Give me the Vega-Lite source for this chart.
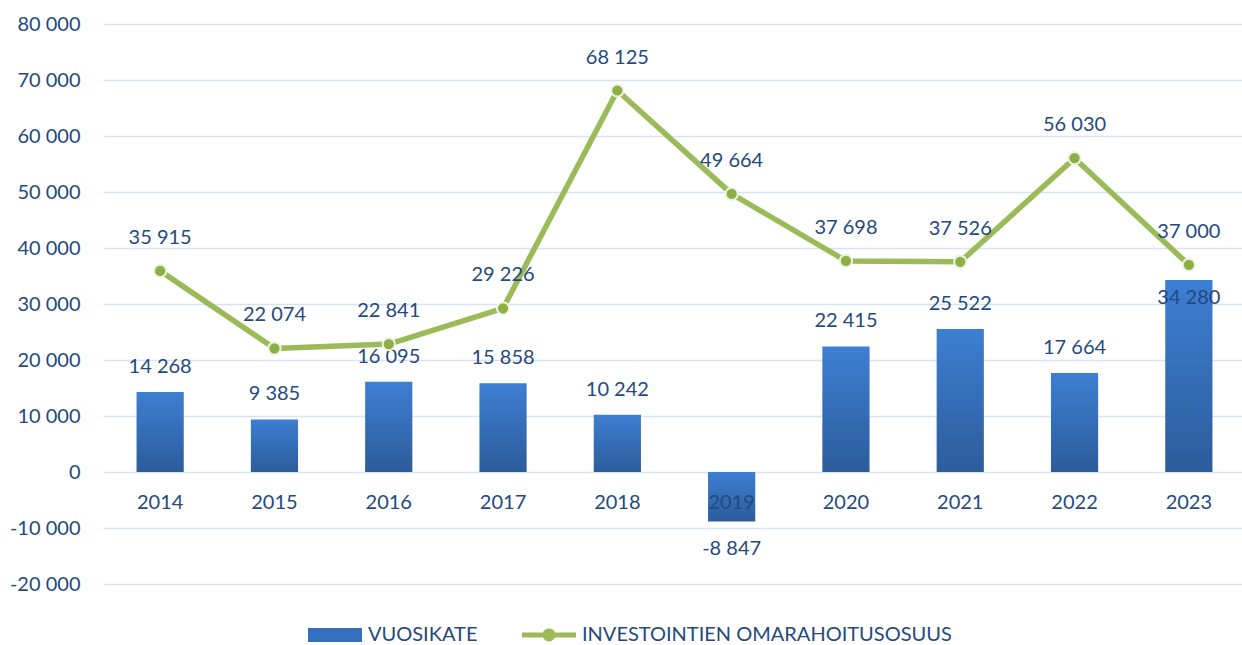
{
  "$schema": "https://vega.github.io/schema/vega-lite/v6.json",
  "autosize": "none",
  "width": 1143,
  "height": 560,
  "padding": {"left": 103, "top": 24, "right": 0, "bottom": 61},
  "background": "white",
  "config": {
    "locale": {"number": {"decimal": ",", "thousands": " ", "grouping": [3], "currency": ["", " €"], "minus": "-"}},
    "view": {"stroke": null},
    "font": "Lato"
  },
  "data": {
    "values": [
      {"year": "2014", "vuosikate": 14268, "omarahoitus": 35915},
      {"year": "2015", "vuosikate": 9385, "omarahoitus": 22074},
      {"year": "2016", "vuosikate": 16095, "omarahoitus": 22841},
      {"year": "2017", "vuosikate": 15858, "omarahoitus": 29226},
      {"year": "2018", "vuosikate": 10242, "omarahoitus": 68125},
      {"year": "2019", "vuosikate": -8847, "omarahoitus": 49664},
      {"year": "2020", "vuosikate": 22415, "omarahoitus": 37698},
      {"year": "2021", "vuosikate": 25522, "omarahoitus": 37526},
      {"year": "2022", "vuosikate": 17664, "omarahoitus": 56030},
      {"year": "2023", "vuosikate": 34280, "omarahoitus": 37000}
    ]
  },
  "encoding": {
    "x": {
      "field": "year", "type": "nominal", "sort": null,
      "scale": {"paddingInner": 0.587, "paddingOuter": 0.2935},
      "axis": {
        "title": null, "orient": "bottom", "offset": -112, "domain": false, "ticks": false, "grid": false, "zindex": 1,
        "labelAngle": 0, "labelFontSize": 20, "labelColor": "#24497E", "labelPadding": 20, "labelFont": "Lato"
      }
    }
  },
  "layer": [
    {
      "mark": {
        "type": "bar",
        "fill": {"gradient": "linear", "x1": 0, "y1": 0, "x2": 0, "y2": 1,
          "stops": [{"offset": 0, "color": "#3D7FD2"}, {"offset": 1, "color": "#2C5C9B"}]}
      },
      "encoding": {
        "y": {
          "field": "vuosikate", "type": "quantitative",
          "scale": {"domain": [-20000, 80000], "nice": false, "zero": false},
          "axis": {
            "title": null, "values": [-20000, -10000, 0, 10000, 20000, 30000, 40000, 50000, 60000, 70000, 80000],
            "format": ",d", "domain": false, "ticks": false, "grid": true, "gridColor": "#D6E3F5", "gridWidth": 1.5,
            "labelFontSize": 20, "labelColor": "#24497E", "labelPadding": 23, "labelFont": "Lato"
          }
        }
      }
    },
    {
      "transform": [{"filter": "datum.vuosikate >= 0 && datum.year != '2023'"}],
      "mark": {"type": "text", "baseline": "middle", "dy": -25, "fontSize": 20, "color": "#24497E", "font": "Lato"},
      "encoding": {
        "y": {"field": "vuosikate", "type": "quantitative"},
        "text": {"field": "vuosikate", "type": "quantitative", "format": ",d"}
      }
    },
    {
      "transform": [{"filter": "datum.vuosikate < 0"}],
      "mark": {"type": "text", "baseline": "middle", "dy": 27, "fontSize": 20, "color": "#24497E", "font": "Lato"},
      "encoding": {
        "y": {"field": "vuosikate", "type": "quantitative"},
        "text": {"field": "vuosikate", "type": "quantitative", "format": ",d"}
      }
    },
    {
      "transform": [{"filter": "datum.year == '2023'"}],
      "mark": {"type": "text", "baseline": "middle", "dy": 18, "fontSize": 20, "color": "#24497E", "font": "Lato"},
      "encoding": {
        "y": {"field": "vuosikate", "type": "quantitative"},
        "text": {"field": "vuosikate", "type": "quantitative", "format": ",d"}
      }
    },
    {
      "mark": {"type": "line", "strokeWidth": 5.5, "strokeJoin": "round"},
      "encoding": {
        "y": {"field": "omarahoitus", "type": "quantitative"},
        "color": {
          "datum": "INVESTOINTIEN OMARAHOITUSOSUUS",
          "scale": {"domain": ["VUOSIKATE", "INVESTOINTIEN OMARAHOITUSOSUUS"], "range": ["#3470BD", "#9BBB59"]},
          "legend": {
            "title": null, "orient": "none", "direction": "horizontal", "legendX": 205, "legendY": 584,
            "labelFontSize": 20, "labelColor": "#24497E", "labelFont": "Lato", "labelOffset": 6, "labelLimit": 0,
            "columnPadding": 44, "symbolSize": 2916, "symbolType": "square",
            "encode": {
              "symbols": {
                "update": {
                  "shape": [
                    {"test": "datum.value === 'VUOSIKATE'", "value": "M-1,-0.26H1V0.26H-1Z"},
                    {"value": "M-1,-0.09H1V0.09H-1Z M0.24,0A0.24,0.24 0 1 1 -0.24,0A0.24,0.24 0 1 1 0.24,0Z"}
                  ],
                  "fill": [
                    {"test": "datum.value === 'VUOSIKATE'", "value": "#3470BD"},
                    {"value": "#9BBB59"}
                  ],
                  "stroke": {"value": "transparent"},
                  "strokeWidth": {"value": 0},
                  "size": {"value": 2916},
                  "opacity": {"value": 1}
                }
              }
            }
          }
        }
      }
    },
    {
      "mark": {"type": "point", "shape": "circle", "filled": true, "size": 150, "fill": "#8CB043", "stroke": "#EEF3E2", "strokeWidth": 2, "opacity": 1},
      "encoding": {
        "y": {"field": "omarahoitus", "type": "quantitative"}
      }
    },
    {
      "mark": {"type": "text", "baseline": "middle", "dy": -33, "fontSize": 20, "color": "#24497E", "font": "Lato"},
      "encoding": {
        "y": {"field": "omarahoitus", "type": "quantitative"},
        "text": {"field": "omarahoitus", "type": "quantitative", "format": ",d"}
      }
    }
  ]
}
